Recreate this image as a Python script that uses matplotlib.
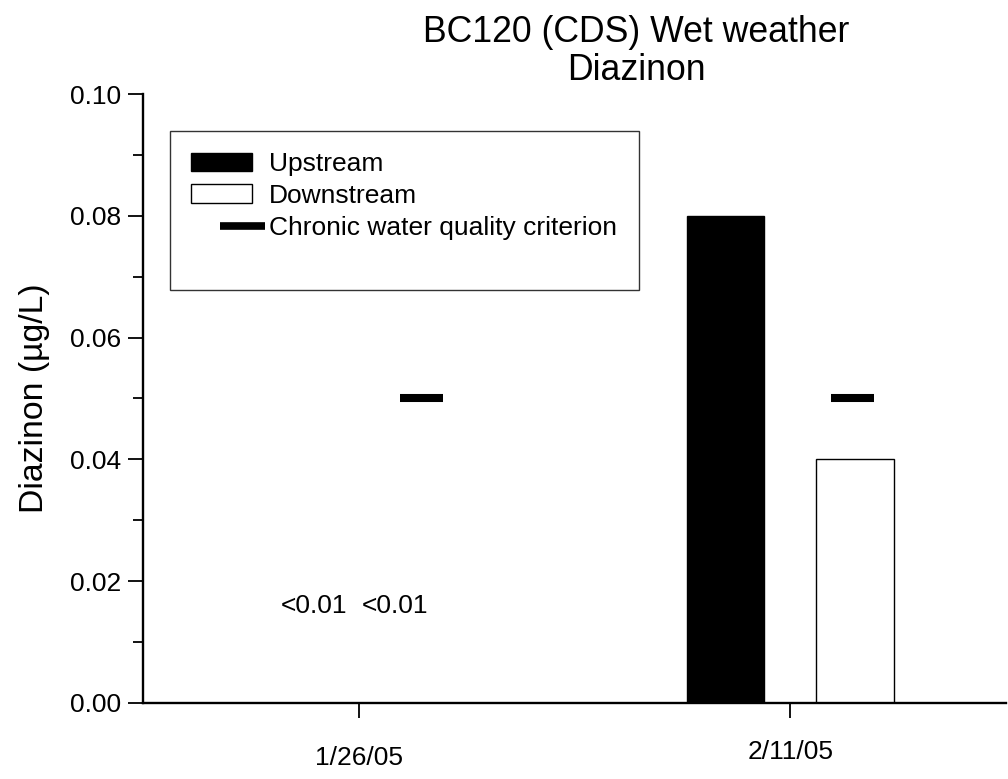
import numpy as np
import matplotlib
matplotlib.use("Agg")
import matplotlib.pyplot as plt
from matplotlib.lines import Line2D
from matplotlib.patches import Patch
from matplotlib.legend_handler import HandlerBase

plt.rcParams['font.family'] = ['Liberation Sans', 'DejaVu Sans']

# data
dates = ['1/26/05', '2/11/05']
upstream = [np.nan, 0.08]      # 1/26/05 was below detection
downstream = [np.nan, 0.04]
criterion = [0.05, 0.05]
nondetect_text = ['<0.01', '<0.01']
nondetect_y = 0.016

x = np.arange(len(dates))
bar_w = 0.18
offset = 0.15
fs = 19


class DashHandler(HandlerBase):
    # short thick dash, shifted right like in the original legend
    def create_artists(self, legend, orig_handle, xdescent, ydescent,
                       width, height, fontsize, trans):
        line = Line2D([0.47 * width, 1.21 * width], [height / 2, height / 2],
                      color='black', lw=5.5, solid_capstyle='butt')
        line.set_transform(trans)
        return [line]


class BlankHandler(HandlerBase):
    # empty row at the bottom of the legend box
    def create_artists(self, legend, orig_handle, xdescent, ydescent,
                       width, height, fontsize, trans):
        line = Line2D([0, width], [height / 2, height / 2], color='none')
        line.set_transform(trans)
        return [line]


fig = plt.figure(figsize=(10.08, 7.79), dpi=100)
ax = fig.add_axes([0.1419, 0.0976, 0.856, 0.7817])

ax.bar(x - offset, upstream, width=bar_w, color='black', edgecolor='black', linewidth=1)
ax.bar(x + offset, downstream, width=bar_w, color='white', edgecolor='black', linewidth=1)
ax.hlines(criterion, x + 0.095, x + 0.195, color='black', linewidth=5.8, capstyle='butt')

ax.text(x[0] - 0.104, nondetect_y, nondetect_text[0], ha='center', va='center', fontsize=fs)
ax.text(x[0] + 0.084, nondetect_y, nondetect_text[1], ha='center', va='center', fontsize=fs)

ax.set_xlim(-0.5, 1.5)
ax.set_ylim(0, 0.10)
ax.set_yticks(np.arange(0, 0.101, 0.02))
ax.set_yticks(np.arange(0.01, 0.10, 0.02), minor=True)
ax.set_yticklabels(['%.2f' % v for v in np.arange(0, 0.101, 0.02)])
ax.set_xticks(x)
ax.set_xticklabels([])

ax.tick_params(axis='both', which='major', direction='out', length=11, width=1.3,
               labelsize=fs, pad=5)
ax.tick_params(axis='y', which='minor', direction='out', length=7, width=1.3)

for side in ['top', 'right']:
    ax.spines[side].set_visible(False)
for side in ['left', 'bottom']:
    ax.spines[side].set_linewidth(1.7)

# date labels sit at slightly different heights in the original
ax.text(x[0], -0.0090, dates[0], ha='center', va='center', fontsize=fs,
        transform=ax.transData, clip_on=False)
ax.text(x[1], -0.0081, dates[1], ha='center', va='center', fontsize=fs,
        transform=ax.transData, clip_on=False)

ax.set_ylabel('Diazinon (µg/L)', fontsize=24.3, labelpad=14)

fig.text(0.631, 0.981, 'BC120 (CDS) Wet weather\nDiazinon', ha='center', va='top',
         fontsize=25.7, linespacing=1.12)

handles = [Patch(facecolor='black', edgecolor='black'),
           Patch(facecolor='white', edgecolor='black'),
           Line2D([], [], color='black'),
           Line2D([], [], color='none')]
labels = ['Upstream', 'Downstream', 'Chronic water quality criterion', ' ']
leg = ax.legend(handles, labels, loc='upper left', bbox_to_anchor=(0.031, 0.940),
                fontsize=fs, frameon=True, fancybox=False, handlelength=2.3,
                handleheight=0.72, handletextpad=0.64, borderpad=0.82,
                labelspacing=0.3, borderaxespad=0,
                handler_map={handles[2]: DashHandler(), handles[3]: BlankHandler()})
leg.get_texts()[3].set_fontsize(8)
leg.get_frame().set_edgecolor('black')
leg.get_frame().set_linewidth(1.0)

fig.savefig('out.png', dpi=100)
